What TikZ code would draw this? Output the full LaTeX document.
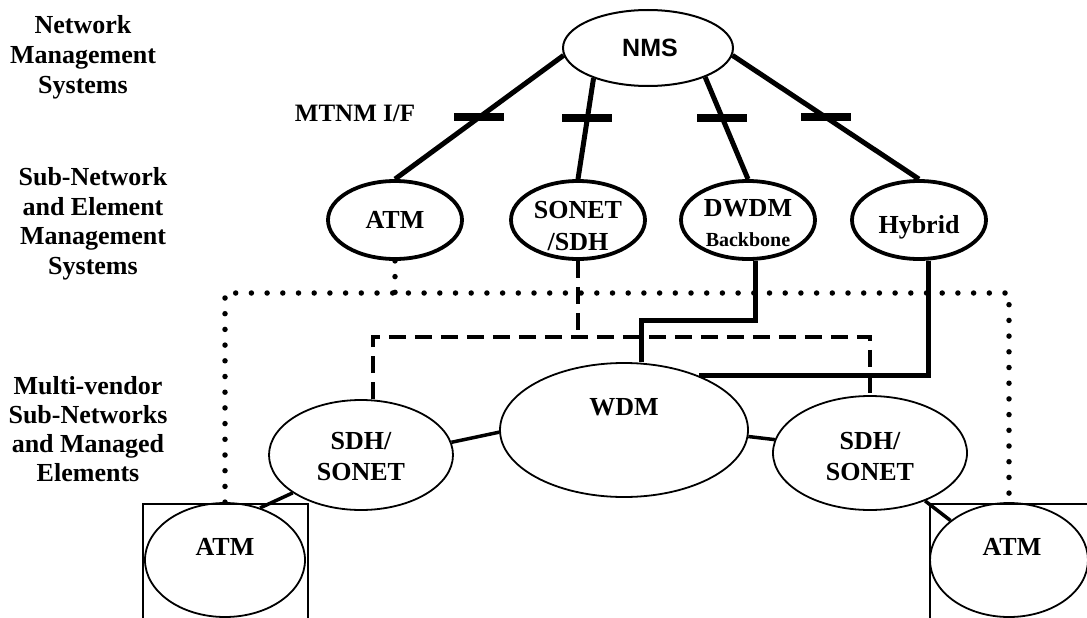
\documentclass[tikz,border=0pt]{standalone}
\usepackage{fontspec}
\setmainfont{Liberation Serif}
\newfontfamily\nmsfont{Liberation Sans}
\usetikzlibrary{shapes.geometric,calc}
\tikzset{
  ell/.style={ellipse, draw, inner sep=0pt},
  midell/.style={ell, line width=3.8pt, minimum width=134pt, minimum height=78pt},
  lowell/.style={ell, line width=1.8pt},
  boxst/.style={draw, line width=1.8pt, inner sep=0pt},
  txt/.style={font=\fontsize{26}{31}\selectfont\bfseries, align=center, inner sep=0pt},
  smalltxt/.style={font=\fontsize{20}{22}\selectfont\bfseries, align=center, inner sep=0pt},
  nmstxt/.style={font=\fontsize{25}{28}\selectfont\nmsfont\bfseries, inner sep=0pt},
  mgmtline/.style={line width=5pt},
  barnode/.style={fill=black, minimum width=50pt, minimum height=8pt, inner sep=0pt, outer sep=0pt},
  dotline/.style={line width=5.5pt, line cap=round, dash pattern=on 0pt off 15.7pt},
  dashline/.style={line width=3.5pt, dash pattern=on 17pt off 9pt},
  thickline/.style={line width=5pt},
  netline/.style={line width=3.5pt},
}
\begin{document}
\begin{tikzpicture}[x=1pt,y=-1pt]
\useasboundingbox (0,0) rectangle (1087,618);
\clip (0,0) rectangle (1087,618);

% left labels
\node[txt, font=\fontsize{26}{30}\selectfont\bfseries] (lab1) at (83,57) {Network\\Management\\Systems};
\node[txt, font=\fontsize{26}{29.5}\selectfont\bfseries] (lab2) at (93,224) {Sub-Network\\and Element\\Management\\Systems};
\node[txt, font=\fontsize{26}{29}\selectfont\bfseries] (lab3) at (88,429) {Multi-vendor\\Sub-Networks\\and Managed\\Elements};
\node[txt, font=\fontsize{25}{28}\selectfont\bfseries] (mtnm) at (355,113) {MTNM I/F};

% NMS
\node[ell, line width=2pt, minimum width=170pt, minimum height=76pt] (nms) at (648,48) {};
\node[nmstxt] (nmsT) at (650,48) {NMS};

% middle layer
\node[midell] (atm) at (395,220) {};
\node[midell] (sonet) at (578,220) {};
\node[midell] (dwdm) at (748,220) {};
\node[midell] (hybrid) at (919,220) {};
\node[txt] (atmT) at (395,220) {ATM};
\node[txt, font=\fontsize{26}{32}\selectfont\bfseries] (sonetT) at (578,226) {SONET\\/SDH};
\node[txt] (dwdmT1) at (748,208) {DWDM};
\node[smalltxt] (dwdmT2) at (748,240) {Backbone};
\node[txt] (hybridT) at (919,227) {Hybrid};

% lower layer
\node[lowell, minimum width=248pt, minimum height=134pt] (wdm) at (624,430) {};
\node[txt] (wdmT) at (624,407) {WDM};
\node[lowell, minimum width=184pt, minimum height=110pt] (sdhL) at (361,455) {};
\node[txt] (sdhLT) at (361,457) {SDH/\\SONET};
\node[lowell, minimum width=194pt, minimum height=114pt] (sdhR) at (870,453) {};
\node[txt] (sdhRT) at (870,457) {SDH/\\SONET};

\node[boxst, minimum width=165pt, minimum height=140pt, anchor=north] (boxL) at (225.5,503) {};
\node[lowell, minimum width=160pt, minimum height=114pt] (atmL) at (225,560) {};
\node[txt] (atmLT) at (225,547) {ATM};
\node[boxst, minimum width=170pt, minimum height=140pt, anchor=north] (boxR) at (1015,503) {};
\node[lowell, minimum width=158pt, minimum height=114pt] (atmR) at (1009,560) {};
\node[txt] (atmRT) at (1012,547) {ATM};

% NMS interfaces
\draw[mgmtline] (nms.185) -- node[barnode, pos=0.499] (bar1) {} (atm.north);
\draw[mgmtline] (nms.209.5) -- node[barnode, pos=0.39] (bar2) {} (sonet.north);
\draw[mgmtline] (nms.333.4) -- node[barnode, pos=0.398] (bar3) {} (dwdm.north);
\draw[mgmtline] (nms.355) -- node[barnode, pos=0.499] (bar4) {} (hybrid.north);

% dotted ATM management
\coordinate (dtop) at (0,293);
\draw[dotline] (atm.south) -- (atm.south |- dtop);
\draw[dotline] (atmL.north) -- (atmL.north |- dtop) -- (atmR.north |- dtop) -- (atmR.north);

% dashed SONET/SDH management
\coordinate (dmid) at (0,337);
\draw[dashline] (sonet.south) -- (sonet.south |- dmid);
\draw[dashline] ([xshift=12pt]sdhL.north) -- ([xshift=12pt]sdhL.north |- dmid) -- (sdhR.north |- dmid) -- (sdhR.north);

% solid DWDM / Hybrid management
\draw[thickline] ([xshift=7pt]dwdm.south) -- ++(0,60) -| ([xshift=17pt]wdm.north);
\draw[thickline] ([xshift=9pt]hybrid.south) |- (wdm.36.5);

% network links
\draw[netline] (sdhL.8) -- (wdm.181);
\draw[netline] (wdm.-3) -- (sdhR.172);
\draw[netline] (sdhL.209) -- (atmL.56.6);
\draw[netline] (sdhR.319) -- (atmR.146);
\end{tikzpicture}
\end{document}
